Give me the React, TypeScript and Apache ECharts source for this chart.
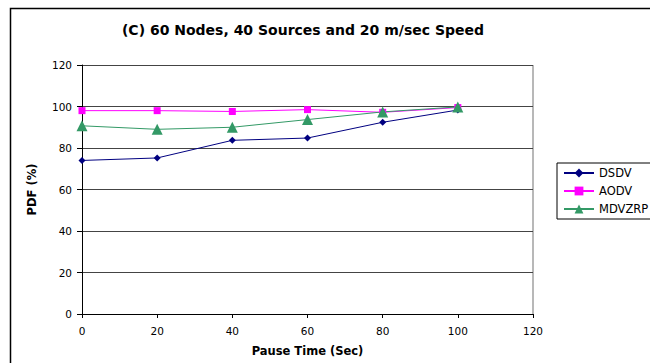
import React, { useEffect, useRef } from "react";
import * as echarts from "echarts";

const pauseTimes = [0, 20, 40, 60, 80, 100];
const dsdv = [74, 75.2, 83.7, 84.8, 92.4, 98.3];
const aodv = [98, 98, 97.6, 98.5, 97.2, 99.5];
const mdvzrp = [90.7, 89, 90, 93.7, 97.4, 99.8];
const seriesNames = ["DSDV", "AODV", "MDVZRP"];
const titleText = "(C) 60 Nodes, 40 Sources and 20 m/sec Speed";
const xName = "Pause Time (Sec)";
const yName = "PDF (%)";

const FONT = "'DejaVu Sans', 'Liberation Sans', Arial, sans-serif";

export default function App() {
  const ref = useRef<HTMLDivElement>(null);
  useEffect(() => {
    if (!ref.current) return;
    const chart = echarts.init(ref.current, undefined, { renderer: "svg" });
    const pair = (ys: number[]) => pauseTimes.map((x, i) => [x, ys[i]]);
    chart.setOption({
      animation: false,
      backgroundColor: "#fff",
      textStyle: { fontFamily: FONT },
      title: {
        text: titleText,
        left: 298,
        top: 18,
        textAlign: "center",
        textStyle: { fontFamily: FONT, fontSize: 14, fontWeight: "bold", color: "#000" },
      },
      grid: { left: 82, top: 65, right: 117, bottom: 49 },
      legend: {
        orient: "vertical",
        left: 557,
        top: 163,
        padding: [4, 6, 4, 6],
        itemWidth: 30,
        itemHeight: 11,
        itemGap: 6,
        borderColor: "#000",
        borderWidth: 1,
        data: seriesNames,
        textStyle: { fontFamily: FONT, fontSize: 11.5, color: "#000" },
      },
      xAxis: {
        type: "value",
        min: 0,
        max: 120,
        interval: 20,
        name: xName,
        nameLocation: "middle",
        nameGap: 31,
        nameTextStyle: { fontFamily: FONT, fontSize: 11.5, fontWeight: "bold", color: "#000" },
        axisLine: { show: true, lineStyle: { color: "#000", width: 1 } },
        axisTick: { show: true, inside: false, length: 4, lineStyle: { color: "#000" } },
        axisLabel: { fontFamily: FONT, fontSize: 10.5, color: "#000", margin: 11 },
        splitLine: { show: false },
      },
      yAxis: {
        type: "value",
        min: 0,
        max: 120,
        interval: 20,
        name: yName,
        nameLocation: "middle",
        nameGap: 44,
        nameRotate: 90,
        nameTextStyle: { fontFamily: FONT, fontSize: 11.5, fontWeight: "bold", color: "#000" },
        axisLine: { show: true, lineStyle: { color: "#000", width: 1 } },
        axisTick: { show: true, inside: false, length: 5, lineStyle: { color: "#000" } },
        axisLabel: { fontFamily: FONT, fontSize: 10.5, color: "#000", margin: 10 },
        splitLine: { show: true, lineStyle: { color: "#444", width: 1 } },
      },
      graphic: [
        {
          type: "rect",
          shape: { x: 10.5, y: 8.5, width: 700, height: 400 },
          style: { fill: "none", stroke: "#000", lineWidth: 1.5 },
          silent: true,
        },
        {
          type: "line",
          shape: { x1: 533, y1: 65, x2: 533, y2: 314 },
          style: { stroke: "#a0a0a0", lineWidth: 1.5 },
          silent: true,
        },
      ],
      series: [
        {
          name: seriesNames[0],
          type: "line",
          data: pair(dsdv),
          symbol: "diamond",
          symbolSize: 7,
          color: "#000080",
          lineStyle: { width: 1, color: "#000080" },
          itemStyle: { color: "#000080" },
        },
        {
          name: seriesNames[1],
          type: "line",
          data: pair(aodv),
          symbol: "rect",
          symbolSize: 7,
          color: "#ff00ff",
          lineStyle: { width: 1, color: "#ff00ff" },
          itemStyle: { color: "#ff00ff" },
        },
        {
          name: seriesNames[2],
          type: "line",
          data: pair(mdvzrp),
          symbol: "triangle",
          symbolSize: 11,
          color: "#339966",
          lineStyle: { width: 1, color: "#339966" },
          itemStyle: { color: "#339966" },
        },
      ],
    });
    return () => chart.dispose();
  }, []);
  return (
    <div
      ref={ref}
      style={{ position: "absolute", left: 0, top: 0, width: 650, height: 363 }}
    />
  );
}
